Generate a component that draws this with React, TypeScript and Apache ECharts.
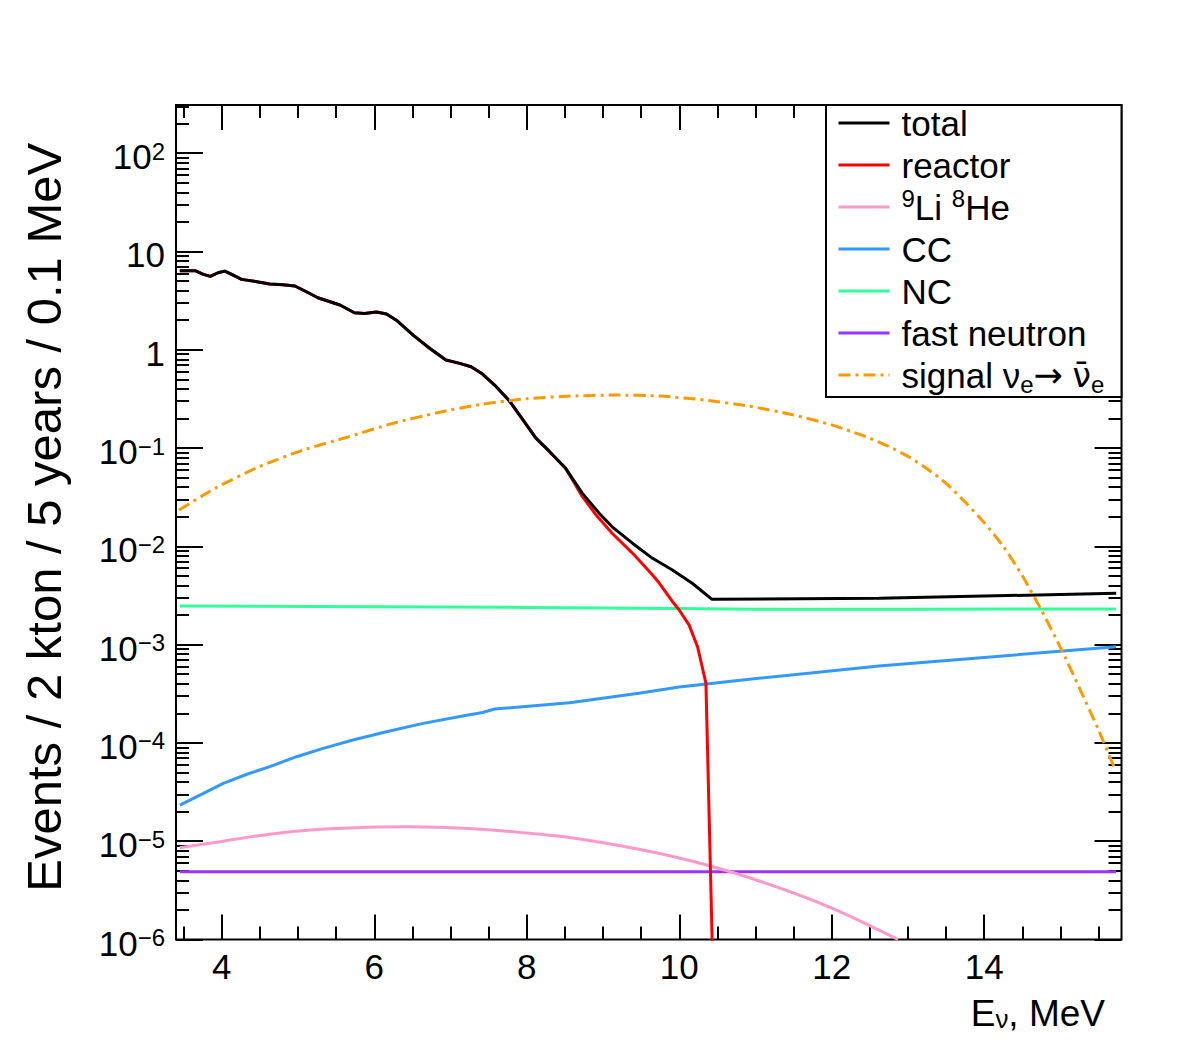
import React, { useEffect, useRef } from 'react';
import * as echarts from 'echarts';

const FONT = '"Liberation Sans", Arial, Helvetica, sans-serif';
const FONT_SYM = '"DejaVu Sans", "Liberation Sans", sans-serif';

// Axis ranges
const X_MIN = 3.4;
const X_MAX = 15.8;
const Y_MIN_LOG = -6;
const Y_MAX_LOG = 2.49;

// Tick positions
const xMajorTicks = [4, 6, 8, 10, 12, 14];
const xMinorTicks = [3.5, 4.5, 5, 5.5, 6.5, 7, 7.5, 8.5, 9, 9.5, 10.5, 11, 11.5, 12.5, 13, 13.5, 14.5, 15, 15.5];
const yDecades = [-6, -5, -4, -3, -2, -1, 0, 1, 2];
const yMinorMantissas = [2, 3, 4, 5, 6, 7, 8, 9];

// ---- Data (energy in MeV, events per bin) ----
const totalE = [3.45, 3.65, 3.76, 3.85, 3.95, 4.04, 4.15, 4.26, 4.46, 4.63, 4.80, 4.96, 5.11, 5.26, 5.42, 5.55, 5.74, 5.87, 6.03, 6.16, 6.29, 6.51, 6.73, 6.94, 7.12, 7.27, 7.42, 7.60, 7.77, 7.95, 8.12, 8.30, 8.51, 8.73, 8.95, 9.12, 9.39, 9.65, 9.91, 10.17, 10.43, 12.62, 14.0, 15.73];
const totalN = [6.37, 6.37, 5.85, 5.58, 6.07, 6.31, 5.74, 5.20, 4.92, 4.66, 4.58, 4.45, 3.89, 3.38, 3.08, 2.85, 2.38, 2.34, 2.42, 2.31, 2.00, 1.41, 1.03, 0.785, 0.726, 0.671, 0.566, 0.421, 0.303, 0.193, 0.126, 0.0918, 0.0622, 0.0346, 0.0217, 0.0158, 0.0107, 0.00755, 0.00574, 0.00421, 0.00289, 0.00296, 0.00312, 0.00333];

const reactorE = [3.45, 3.65, 3.76, 3.85, 3.95, 4.04, 4.15, 4.26, 4.46, 4.63, 4.80, 4.96, 5.11, 5.26, 5.42, 5.55, 5.74, 5.87, 6.03, 6.16, 6.29, 6.51, 6.73, 6.94, 7.12, 7.27, 7.42, 7.60, 7.77, 7.95, 8.12, 8.30, 8.51, 8.73, 8.91, 9.12, 9.39, 9.65, 9.74, 9.91, 10.00, 10.13, 10.24, 10.32, 10.35, 10.45];
const reactorN = [6.37, 6.37, 5.85, 5.58, 6.07, 6.31, 5.74, 5.20, 4.92, 4.66, 4.58, 4.45, 3.89, 3.38, 3.08, 2.85, 2.38, 2.34, 2.42, 2.31, 2.00, 1.41, 1.03, 0.785, 0.726, 0.671, 0.566, 0.421, 0.303, 0.193, 0.126, 0.0918, 0.0622, 0.0320, 0.0208, 0.0136, 0.00849, 0.00511, 0.00421, 0.00275, 0.00225, 0.00158, 0.000953, 0.000511, 0.000404, 2.5e-7];

const liHeE = [3.45, 3.98, 4.63, 5.29, 5.94, 6.46, 7.25, 7.90, 8.56, 9.47, 10.2, 11.04, 12.0, 12.87];
const liHeN = [8.59e-6, 9.89e-6, 1.18e-5, 1.32e-5, 1.39e-5, 1.40e-5, 1.35e-5, 1.23e-5, 1.09e-5, 8.28e-6, 6.17e-6, 3.96e-6, 2.09e-6, 1.0e-6];

const ccE = [3.45, 3.76, 4.02, 4.33, 4.63, 4.98, 5.33, 5.72, 6.16, 6.64, 7.16, 7.42, 7.58, 8.56, 9.47, 10.0, 11.04, 12.62, 14.0, 15.73];
const ccN = [2.33e-5, 3.07e-5, 3.88e-5, 4.80e-5, 5.73e-5, 7.24e-5, 8.81e-5, 1.07e-4, 1.30e-4, 1.58e-4, 1.88e-4, 2.04e-4, 2.21e-4, 2.56e-4, 3.20e-4, 3.70e-4, 4.54e-4, 6.05e-4, 7.41e-4, 9.53e-4];

const ncE = [3.45, 6.0, 8.0, 10.0, 11.0, 13.0, 15.73];
const ncN = [2.47e-3, 2.43e-3, 2.39e-3, 2.33e-3, 2.29e-3, 2.29e-3, 2.31e-3];

const fastNE = [3.45, 15.73];
const fastNN = [4.9e-6, 4.9e-6];

const signalE = [3.44, 3.91, 4.49, 5.07, 5.66, 6.24, 6.83, 7.41, 8.00, 8.58, 9.17, 9.75, 10.33, 10.92, 11.50, 12.0, 12.25, 12.5, 12.75, 13.0, 13.25, 13.5, 13.75, 14.0, 14.25, 14.5, 14.75, 15.0, 15.25, 15.5, 15.72];
const signalN = [0.0234, 0.0389, 0.0646, 0.0955, 0.130, 0.178, 0.229, 0.279, 0.318, 0.338, 0.346, 0.338, 0.308, 0.267, 0.217, 0.172, 0.148, 0.126, 0.1035, 0.0822, 0.0617, 0.0437, 0.0282, 0.0174, 0.0100, 0.00501, 0.00224, 9.33e-4, 3.59e-4, 1.35e-4, 5.25e-5];

const legendOrder = ['total', 'reactor', 'Li8He', 'CC', 'NC', 'fast neutron', 'signal'];
const legendText: Record<string, string> = {
  total: 'total',
  reactor: 'reactor',
  Li8He: '{sup|9}Li {sup|8}He',
  CC: 'CC',
  NC: 'NC',
  'fast neutron': 'fast neutron',
  signal: 'signal \u03bd{sub|e}{arr|\u2192} {nub|\u03bd\u0304}{sub|e}',
};

const toPts = (xs: number[], ys: number[]) => xs.map((x, i) => [x, Math.log10(ys[i])]);

const yMinorTicks: number[] = [];
yDecades.forEach((d) => {
  yMinorMantissas.forEach((m) => {
    const v = d + Math.log10(m);
    if (v < Y_MAX_LOG) yMinorTicks.push(v);
  });
});

const yLabel = (v: number) => {
  const n = Math.round(v);
  if (n === 0) return '1';
  if (n === 1) return '10';
  return '10{sup|' + (n < 0 ? '\u2212' + -n : String(n)) + '}';
};

function tickAxisX(position: 'top' | 'bottom', values: number[], len: number, extra: any = {}) {
  return {
    type: 'value',
    gridIndex: 0,
    position,
    min: X_MIN,
    max: X_MAX,
    axisLine: { show: false, onZero: false },
    splitLine: { show: false },
    axisTick: { show: true, inside: true, length: len, customValues: values, lineStyle: { color: '#000', width: 2 } },
    axisLabel: { show: false },
    ...extra,
  };
}

function tickAxisY(position: 'left' | 'right', values: number[], len: number, extra: any = {}) {
  return {
    type: 'value',
    gridIndex: 0,
    position,
    min: Y_MIN_LOG,
    max: Y_MAX_LOG,
    axisLine: { show: false, onZero: false },
    splitLine: { show: false },
    axisTick: { show: true, inside: true, length: len, customValues: values, lineStyle: { color: '#000', width: 2 } },
    axisLabel: { show: false },
    ...extra,
  };
}

function lineSeries(name: string, xs: number[], ys: number[], color: string, z: number, extra: any = {}) {
  return {
    name,
    type: 'line',
    xAxisIndex: 0,
    yAxisIndex: 0,
    data: toPts(xs, ys),
    showSymbol: false,
    symbol: 'none',
    clip: true,
    z,
    itemStyle: { color },
    lineStyle: { color, width: 3 },
    ...extra,
  };
}

export default function App() {
  const ref = useRef<HTMLDivElement>(null);
  useEffect(() => {
    if (!ref.current) return;
    const chart = echarts.init(ref.current, null, { renderer: 'svg' });
    const option: any = {
      animation: false,
      backgroundColor: '#ffffff',
      textStyle: { fontFamily: FONT, color: '#000' },
      grid: {
        left: 176,
        right: 60.5,
        top: 105,
        bottom: 104.5,
        show: true,
        borderColor: '#000',
        borderWidth: 2,
        backgroundColor: 'transparent',
        containLabel: false,
        outerBoundsMode: 'none',
      },
      xAxis: [
        tickAxisX('bottom', xMajorTicks, 25, {
          name: 'E{sub|\u03bd}, MeV',
          nameLocation: 'end',
          nameGap: -16.5,
          nameMoveOverlap: false,
          nameTextStyle: {
            fontFamily: FONT,
            fontSize: 37,
            color: '#000',
            align: 'right',
            verticalAlign: 'top',
            lineHeight: 37,
            padding: [55, 0, 0, 0],
            rich: { sub: { fontFamily: FONT, fontSize: 26, lineHeight: 14, verticalAlign: 'bottom', color: '#000' } },
          },
          axisLabel: {
            show: true,
            customValues: xMajorTicks,
            fontFamily: FONT,
            fontSize: 35,
            color: '#000',
            margin: 9,
          },
        }),
        tickAxisX('bottom', xMinorTicks, 13),
        tickAxisX('top', xMajorTicks, 25),
        tickAxisX('top', xMinorTicks, 13),
      ],
      yAxis: [
        tickAxisY('left', yDecades, 27, {
          name: 'Events / 2 kton / 5 years / 0.1 MeV',
          nameLocation: 'middle',
          nameRotate: 90,
          nameGap: 108,
          nameMoveOverlap: false,
          nameTextStyle: { fontFamily: FONT, fontSize: 49, color: '#000', padding: [0, 0, 0, 10] },
          axisLabel: {
            show: true,
            customValues: yDecades,
            formatter: yLabel,
            fontFamily: FONT,
            fontSize: 35,
            lineHeight: 35,
            color: '#000',
            margin: 11,
            padding: [7, 0, 0, 0],
            rich: { sup: { fontFamily: FONT, fontSize: 24, lineHeight: 24, verticalAlign: 'top', color: '#000' } },
          },
        }),
        tickAxisY('left', yMinorTicks, 13),
        tickAxisY('right', yDecades, 27),
        tickAxisY('right', yMinorTicks, 13),
      ],
      legend: {
        show: true,
        orient: 'vertical',
        left: 837,
        top: 102,
        itemWidth: 51,
        itemHeight: 14,
        itemGap: 0,
        padding: 0,
        z: 20,
        selectedMode: false,
        data: legendOrder,
        formatter: (name: string) => legendText[name] || name,
        itemStyle: { opacity: 0, color: 'rgba(0,0,0,0)', borderWidth: 0 },
        lineStyle: { width: 3 },
        textStyle: {
          fontFamily: FONT,
          fontSize: 35,
          lineHeight: 42,
          color: '#000',
          padding: [0, 0, 0, 7],
          rich: {
            sup: { fontFamily: FONT, fontSize: 24, lineHeight: 21, verticalAlign: 'top', color: '#000' },
            sub: { fontFamily: FONT, fontSize: 24, lineHeight: 24, verticalAlign: 'bottom', color: '#000' },
            arr: { fontFamily: FONT_SYM, fontSize: 35, lineHeight: 42, color: '#000' },
            nub: { fontFamily: FONT_SYM, fontSize: 33, lineHeight: 42, color: '#000' },
          },
        },
      },
      graphic: [
        {
          type: 'rect',
          z: 10,
          shape: { x: 826, y: 105, width: 295.5, height: 292 },
          style: { fill: '#ffffff', stroke: '#000', lineWidth: 2 },
        },
      ],
      series: [
        lineSeries('fast neutron', fastNE, fastNN, '#9933ff', 2),
        lineSeries('Li8He', liHeE, liHeN, '#ff99cc', 2, { smooth: 0.3 }),
        lineSeries('CC', ccE, ccN, '#3399ff', 3),
        lineSeries('NC', ncE, ncN, '#33ff99', 3),
        lineSeries('reactor', reactorE, reactorN, '#ff0000', 4),
        lineSeries('total', totalE, totalN, '#000000', 5),
        lineSeries('signal', signalE, signalN, '#ff9900', 6, {
          smooth: 0.2,
          lineStyle: { color: '#ff9900', width: 3, type: [12, 5, 3, 5] },
        }),
      ],
    };
    chart.setOption(option);
    return () => chart.dispose();
  }, []);
  return (
    <div
      ref={ref}
      style={{ position: 'fixed', left: 0, top: 0, width: 1182, height: 1044, background: '#fff' }}
    />
  );
}
